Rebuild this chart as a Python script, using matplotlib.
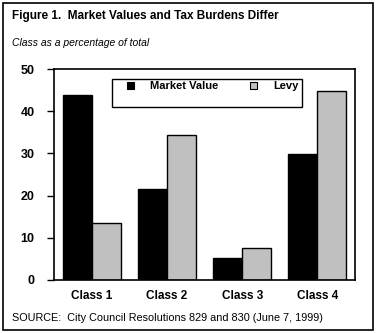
import numpy as np
import matplotlib
matplotlib.use("Agg")
import matplotlib.pyplot as plt
from matplotlib.patches import Rectangle

plt.rcParams["font.family"] = ["Liberation Sans", "DejaVu Sans"]

classes = ["Class 1", "Class 2", "Class 3", "Class 4"]
market_value = [43.8, 21.6, 5.2, 29.9]
levy = [13.4, 34.3, 7.5, 44.8]
yticks = [0, 10, 20, 30, 40, 50]

W, H = 377, 333
fig = plt.figure(figsize=(W / 100, H / 100), dpi=100)
fig.patch.set_facecolor("white")

def fx(px): return px / W
def fy(py): return 1 - py / H

# outer frame
fig.patches.append(Rectangle((fx(3), fy(330)), fx(373) - fx(3), fy(3) - fy(330),
                             transform=fig.transFigure, fill=False, ec="black", lw=1.2))

ax = fig.add_axes([fx(54), fy(280), fx(355) - fx(54), fy(69) - fy(280)])
x = np.arange(len(classes))
bw = 0.385
ax.bar(x - bw / 2, market_value, bw, color="black", edgecolor="black", lw=1.0, label="Market Value")
ax.bar(x + bw / 2, levy, bw, color="#C0C0C0", edgecolor="black", lw=1.0, label="Levy")
ax.set_xlim(-0.5, 3.5)
ax.set_ylim(0, 50)
ax.set_yticks(yticks)
ax.set_yticklabels([str(v) for v in yticks], fontweight="bold", fontsize=9)
ax.set_xticks(x)
ax.set_xticklabels(classes, fontweight="bold", fontsize=8.5)
ax.tick_params(axis="x", length=0, pad=7)
ax.tick_params(axis="y", length=5, width=1, direction="out", pad=9)
for s in ax.spines.values():
    s.set_linewidth(1.2)

# legend box
fig.patches.append(Rectangle((fx(112), fy(107)), fx(302) - fx(112), fy(79) - fy(107),
                             transform=fig.transFigure, fill=True, fc="white", ec="black", lw=1.0,
                             zorder=5))
fig.patches.append(Rectangle((fx(127), fy(89)), fx(7), fy(0) - fy(7),
                             transform=fig.transFigure, fc="black", ec="black", lw=0.8, zorder=6))
fig.text(fx(150), fy(86), "Market Value", fontsize=8, fontweight="bold", va="center", zorder=6)
fig.patches.append(Rectangle((fx(250), fy(89)), fx(7), fy(0) - fy(7),
                             transform=fig.transFigure, fc="#C0C0C0", ec="black", lw=0.8, zorder=6))
fig.text(fx(273), fy(86), "Levy", fontsize=8, fontweight="bold", va="center", zorder=6)

fig.text(fx(12), fy(16), "Figure 1.  Market Values and Tax Burdens Differ",
         fontsize=8.5, fontweight="bold", va="center")
fig.text(fx(12), fy(43), "Class as a percentage of total", fontsize=7.5, style="italic", va="center")
fig.text(fx(12), fy(318), "SOURCE:  City Council Resolutions 829 and 830 (June 7, 1999)",
         fontsize=7.8, va="center")

fig.savefig("out.png", dpi=100, facecolor="white")
